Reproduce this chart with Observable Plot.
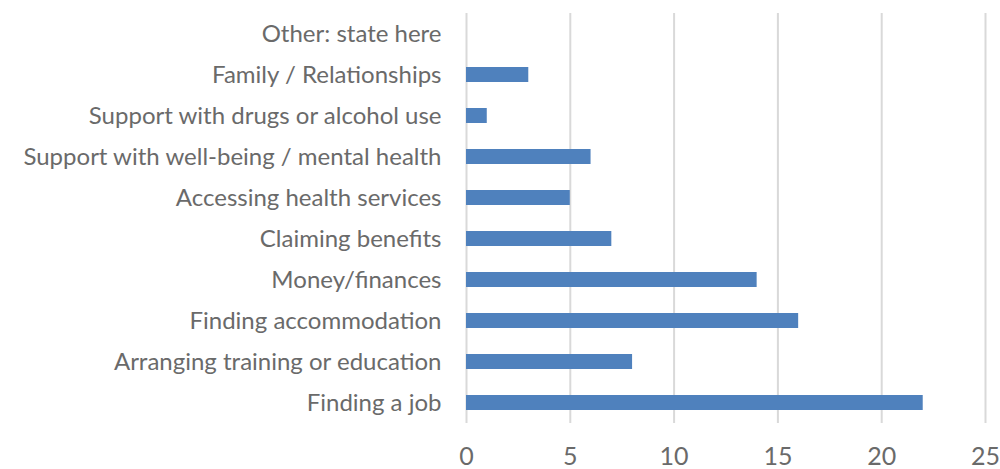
<!DOCTYPE html>
<html>
<head>
<meta charset="utf-8">
<script src="https://cdn.jsdelivr.net/npm/d3@7"></script>
<script src="https://cdn.jsdelivr.net/npm/@observablehq/plot@0.6"></script>
<style>
  html, body { margin: 0; padding: 0; background: #fff; }
  #chart svg { display: block; }
</style>
</head>
<body>
<div id="chart"></div>
<script>
const categories = [
  "Other: state here",
  "Family / Relationships",
  "Support with drugs or alcohol use",
  "Support with well-being / mental health",
  "Accessing health services",
  "Claiming benefits",
  "Money/finances",
  "Finding accommodation",
  "Arranging training or education",
  "Finding a job"
];
const values = [0, 3, 1, 6, 5, 7, 14, 16, 8, 22];
const xTicks = [0, 5, 10, 15, 20, 25];

const data = categories.map((c, i) => ({category: c, value: values[i]}));

const fontFamily = "Lato, 'Open Sans', sans-serif";
// fit font size so the widest label spans roughly the reference width
const ctx = document.createElement("canvas").getContext("2d");
ctx.font = `100px ${fontFamily}`;
const widest = Math.max(...categories.map(c => ctx.measureText(c).width));
const fontSize = Math.min(24, Math.max(16, 427 / widest * 100));

const chart = Plot.plot({
  width: 1000,
  height: 469,
  marginLeft: 466,
  marginRight: 15,
  marginTop: 13,
  marginBottom: 46,
  style: {fontFamily, fontSize: fontSize + "px", color: "#6a6a6a", background: "#fff"},
  x: {domain: [0, 25], ticks: xTicks, label: null},
  y: {domain: categories, label: null, padding: 0},
  marks: [
    Plot.ruleX(xTicks, {stroke: "#d9d9d9", strokeWidth: 2}),
    Plot.barX(data, {x: "value", y: "category", fill: "#4f81bd", insetTop: 13, insetBottom: 13}),
    Plot.axisX({ticks: xTicks, tickSize: 0, tickPadding: 24, fontSize: fontSize + 1, label: null}),
    Plot.axisY({tickSize: 0, tickPadding: 25, label: null})
  ]
});
document.getElementById("chart").appendChild(chart);
</script>
</body>
</html>
